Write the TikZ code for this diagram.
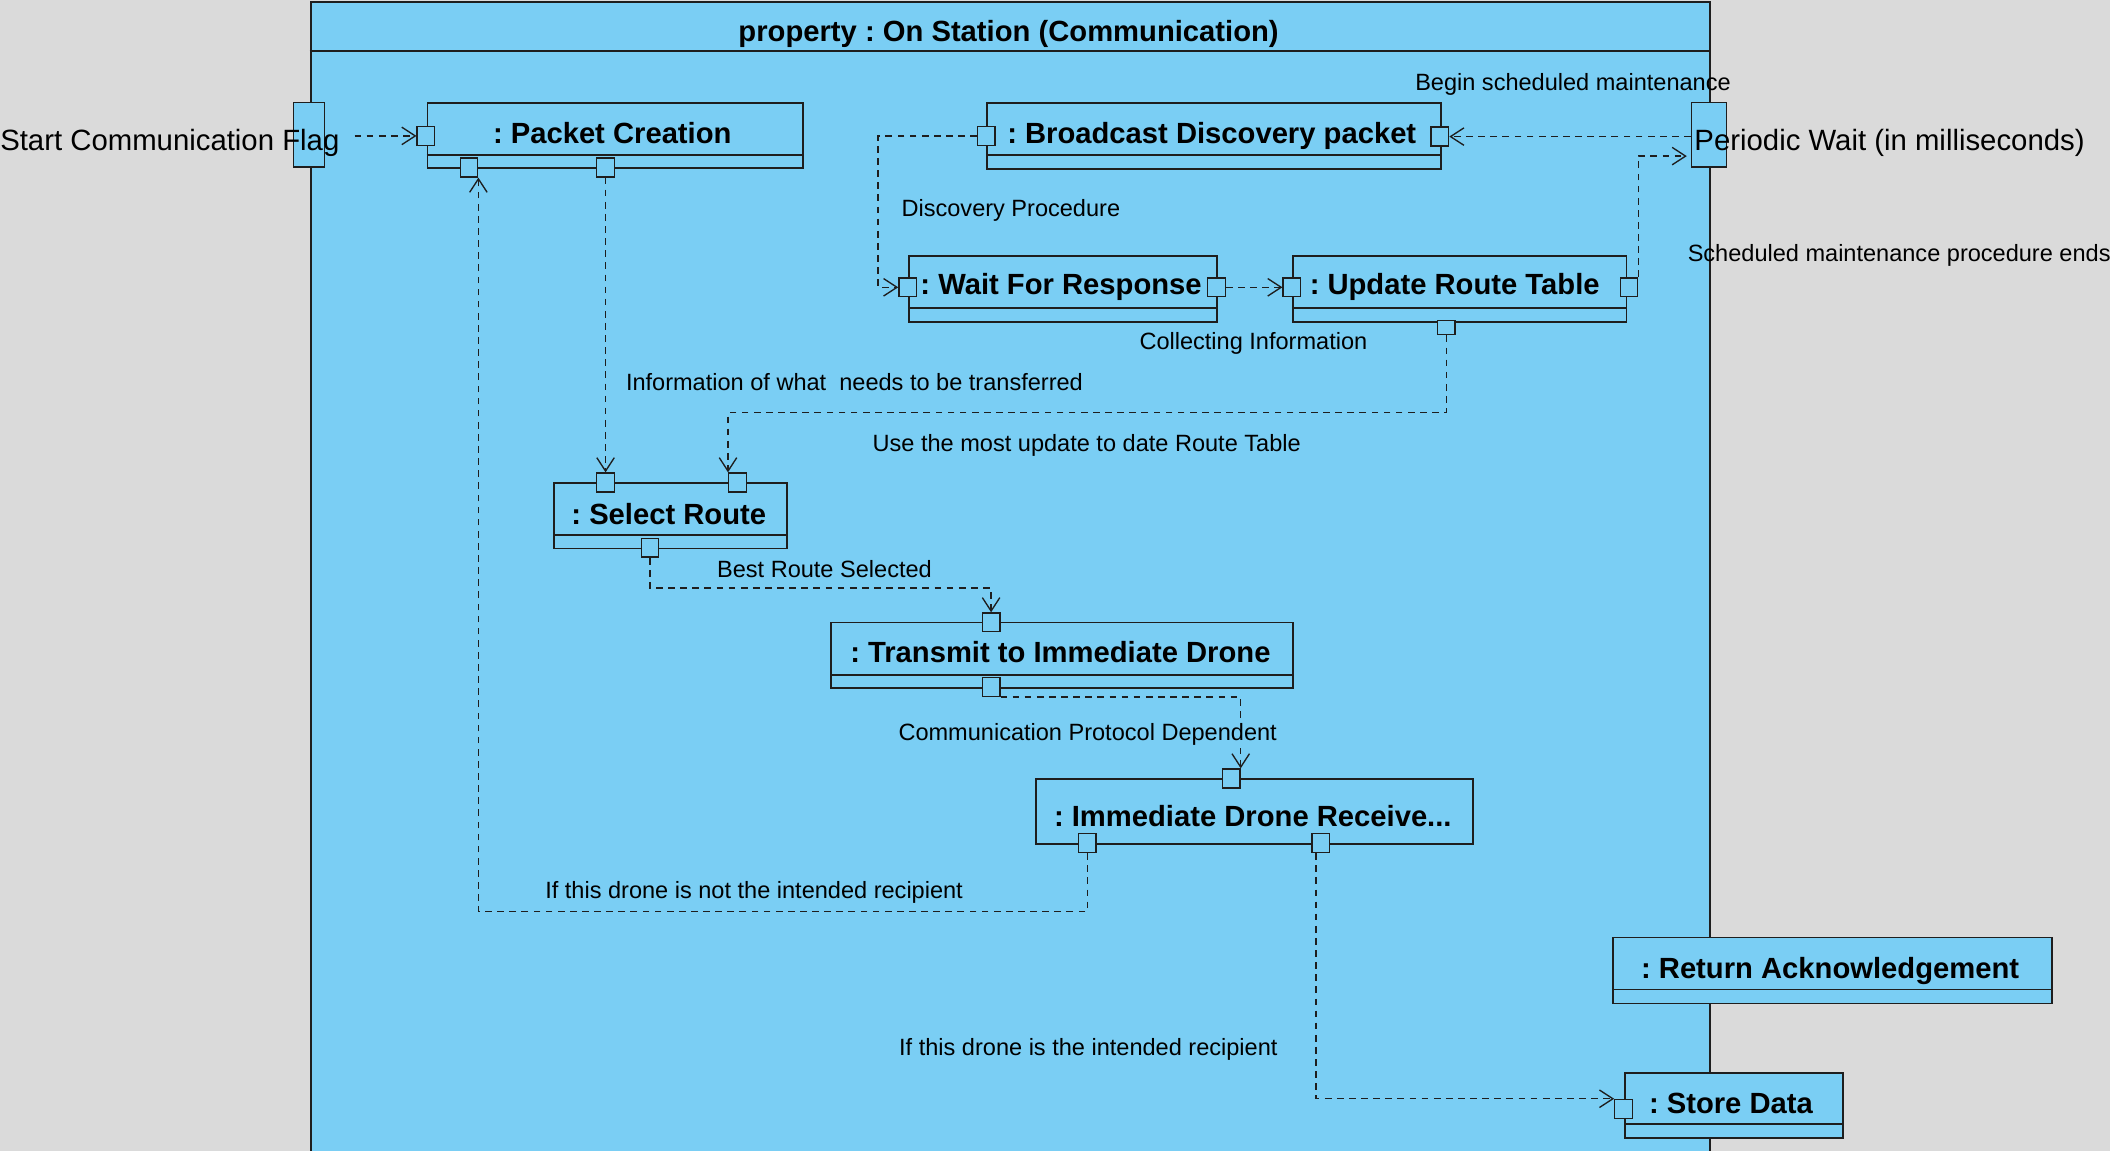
\documentclass[tikz,border=0pt]{standalone}
\usepackage{fontspec}
\setmainfont{Liberation Sans}
\usetikzlibrary{arrows.meta,calc}
\definecolor{bgG}{RGB}{218,218,218}
\definecolor{blueF}{RGB}{122,206,244}
\definecolor{ink}{RGB}{30,30,30}
\tikzset{
 actbox/.style={draw=ink, fill=blueF, line width=1.3pt, inner sep=0pt, anchor=north west},
 smallpin/.style={draw=ink, fill=blueF, line width=1pt, inner sep=0pt, minimum width=13pt, minimum height=14pt},
 bigpin/.style={draw=ink, fill=blueF, line width=1pt, inner sep=0pt, minimum height=48pt},
 boxtext/.style={font=\fontsize{21.7}{24}\selectfont\bfseries, inner sep=0pt, anchor=base, text=black},
 lbl/.style={font=\fontsize{17.5}{20}\selectfont, inner sep=0pt, anchor=base west, text=black},
 pinlbl/.style={font=\fontsize{21.8}{24}\selectfont, inner sep=0pt, anchor=base west, text=black},
 conn/.style={draw=ink, line width=1pt, dash pattern=on 5pt off 4pt, -{Straight Barb[length=10pt,width=13pt]}},
 sepline/.style={draw=ink, line width=1.3pt},
}
\frenchspacing
\begin{document}
\frenchspacing
\begin{tikzpicture}[x=1pt,y=-1pt]
\useasboundingbox (0,0) rectangle (1568,855);
\fill[bgG] (0,0) rectangle (1568,855);
% frame
\node[draw=ink, fill=blueF, line width=1.5pt, minimum width=1040pt, minimum height=856pt, anchor=north west, inner sep=0pt] (frame) at (230,1) {};
\draw[sepline] (frame.west |- 0,38) -- (frame.east |- 0,38);
\node[boxtext] (title) at (749.5,31.2) {property : On Station (Communication)};
% action boxes
\node[actbox, minimum width=279pt, minimum height=48pt] (pc) at (317,76) {};
\draw[sepline] ($(pc.south west)+(0,-10)$) -- ($(pc.south east)+(0,-10)$);
\node[boxtext] (pcT) at (455,107) {: Packet Creation};
\node[actbox, minimum width=337pt, minimum height=49pt] (bd) at (733,76) {};
\draw[sepline] ($(bd.south west)+(0,-11)$) -- ($(bd.south east)+(0,-11)$);
\node[boxtext] (bdT) at (900.5,107) {: Broadcast Discovery packet};
\node[actbox, minimum width=229pt, minimum height=49pt] (wr) at (675,189.5) {};
\draw[sepline] ($(wr.south west)+(0,-11)$) -- ($(wr.south east)+(0,-11)$);
\node[boxtext] (wrT) at (788.5,219.2) {: Wait For Response};
\node[actbox, minimum width=248pt, minimum height=49pt] (ur) at (960,189.5) {};
\draw[sepline] ($(ur.south west)+(0,-11)$) -- ($(ur.south east)+(0,-11)$);
\node[boxtext] (urT) at (1081,219.2) {: Update Route Table};
\node[actbox, minimum width=173pt, minimum height=48.5pt] (sr) at (411,358.5) {};
\draw[sepline] ($(sr.south west)+(0,-10.7)$) -- ($(sr.south east)+(0,-10.7)$);
\node[boxtext] (srT) at (497,389.4) {: Select Route};
\node[actbox, minimum width=343pt, minimum height=48.5pt] (tr) at (617,462) {};
\draw[sepline] ($(tr.south west)+(0,-10.2)$) -- ($(tr.south east)+(0,-10.2)$);
\node[boxtext] (trT) at (788,492.5) {: Transmit to Immediate Drone};
\node[actbox, minimum width=325pt, minimum height=48.5pt] (idr) at (769,578) {};
\node[boxtext] (idrT) at (931,614) {: Immediate Drone Receive...};
\node[actbox, minimum width=326pt, minimum height=49pt] (ra) at (1198,696) {};
\draw[sepline] ($(ra.south west)+(0,-11)$) -- ($(ra.south east)+(0,-11)$);
\node[boxtext] (raT) at (1360,727.5) {: Return Acknowledgement};
\node[actbox, minimum width=162pt, minimum height=48.5pt] (sd) at (1207,796.5) {};
\draw[sepline] ($(sd.south west)+(0,-11)$) -- ($(sd.south east)+(0,-11)$);
\node[boxtext] (sdT) at (1286.3,827.3) {: Store Data};
% big pins
\node[bigpin, minimum width=23pt] (sflag) at (229.5,100) {};
\node[bigpin, minimum width=26pt] (pwait) at (1270,100) {};
% small pins
\node[smallpin] (pcL) at (316.5,101) {};
\node[smallpin] (pcB1) at (348.5,124.5) {};
\node[smallpin] (pcB2) at (450,124.5) {};
\node[smallpin] (bdL) at (733,101) {};
\node[smallpin] (bdR) at (1070,101.5) {};
\node[smallpin] (wrL) at (674.5,213.5) {};
\node[smallpin] (wrR) at (904,213.5) {};
\node[smallpin] (urL) at (960,213.5) {};
\node[smallpin] (urR) at (1210.5,213.5) {};
\node[smallpin, minimum height=10.5pt] (urB) at (1074.7,243.5) {};
\node[smallpin] (srT1) at (450,358.5) {};
\node[smallpin] (srT2) at (548,358.5) {};
\node[smallpin] (srB) at (483,407) {};
\node[smallpin] (trTp) at (736.5,462.5) {};
\node[smallpin] (trBp) at (736.5,510.5) {};
\node[smallpin] (idrTp) at (915,578.5) {};
\node[smallpin] (idrB1) at (808,626.5) {};
\node[smallpin] (idrB2) at (981.5,626.5) {};
\node[smallpin] (sdL) at (1206.5,824) {};
% connectors
\coordinate (aS) at ($(sflag.east)+(22,0)$);
\draw[conn] (aS |- pcL.west) -- (pcL.west);
\draw[conn] (pwait.west |- bdR.east) -- (bdR.east);
\draw[conn] (urR.north east) |- ($(pwait.west)+(-3,16)$);
\draw[conn] (bdL.west) -| ($(wrL.west)+(-15,0)$) -- (wrL.west);
\draw[conn] (wrR.east) -- (urL.west);
\draw[conn] (urB.south) -- ++(0,57.5) -| (srT2.north west);
\draw[conn] (pcB2.south) -- (srT1.north);
\draw[conn] (srB.south) -- ++(0,22.5) -| (trTp.north);
\draw[conn] (trBp.south east) -| (idrTp.north east);
\draw[conn] (idrB1.south) -- ++(0,43.5) -| (pcB1.south east);
\draw[conn] ($(idrB2.south)+(-3.5,0)$) |- (sdL.north west);
% labels
\node[pinlbl] (sflagT) at (0,111.5) {Start Communication Flag};
\node[pinlbl] (pwaitT) at (1259,111.5) {Periodic Wait (in milliseconds)};
\node[lbl] (l1) at (1051.5,67) {Begin scheduled maintenance};
\node[lbl] (l2) at (669.8,161) {Discovery Procedure};
\node[lbl] (l3) at (1254,194.5) {Scheduled maintenance procedure ends};
\node[lbl] (l4) at (846.6,259.6) {Collecting Information};
\node[lbl] (l5) at (465,290.3) {Information of what\ \ needs to be transferred};
\node[lbl] (l6) at (648.3,335.6) {Use the most update to date Route Table};
\node[lbl] (l7) at (532.7,429) {Best Route Selected};
\node[lbl, fill=blueF, inner ysep=2pt] (l8) at (667.5,550) {Communication Protocol Dependent};
\node[lbl] (l9) at (405,668) {If this drone is not the intended recipient};
\node[lbl] (l10) at (668,784) {If this drone is the intended recipient};
\end{tikzpicture}
\end{document}
